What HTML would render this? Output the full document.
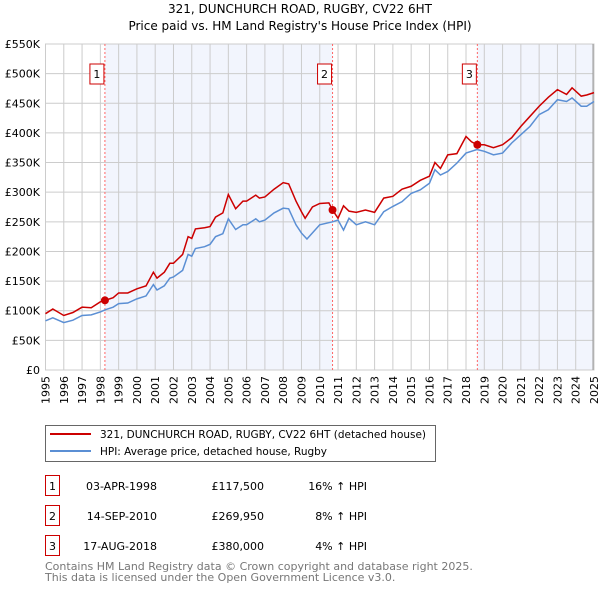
<!DOCTYPE html>
<html><head><meta charset="utf-8"><style>
body{margin:0;background:#fff;font-family:"DejaVu Sans","Liberation Sans",sans-serif;}
svg text{font-family:"DejaVu Sans","Liberation Sans",sans-serif;}
</style></head><body>
<svg id="chart" width="600" height="590" xmlns="http://www.w3.org/2000/svg">
<text x="300" y="13" text-anchor="middle" font-size="12">321, DUNCHURCH ROAD, RUGBY, CV22 6HT</text>
<text x="300" y="30" text-anchor="middle" font-size="12">Price paid vs. HM Land Registry's House Price Index (HPI)</text>
<g id="plot"></g>
<g>
<rect x="45.5" y="425.5" width="390" height="36" fill="#fff" stroke="#666"/>
<line x1="50" y1="434" x2="91" y2="434" stroke="#cc0000" stroke-width="2"/>
<text x="100" y="438" font-size="11" textLength="326" lengthAdjust="spacingAndGlyphs">321, DUNCHURCH ROAD, RUGBY, CV22 6HT (detached house)</text>
<line x1="50" y1="451" x2="91" y2="451" stroke="#5b8fd4" stroke-width="2"/>
<text x="100" y="455" font-size="11" textLength="227" lengthAdjust="spacingAndGlyphs">HPI: Average price, detached house, Rugby</text>
</g>
<g font-size="11">
<rect x="45.5" y="475.5" width="14" height="20" fill="#fff" stroke="#cc0000"/><text x="52.5" y="490" text-anchor="middle">1</text>
<text x="157" y="490" text-anchor="end">03-APR-1998</text><text x="264" y="490" text-anchor="end">£117,500</text><text x="367" y="490" text-anchor="end">16% ↑ HPI</text>
<rect x="45.5" y="505.5" width="14" height="20" fill="#fff" stroke="#cc0000"/><text x="52.5" y="520" text-anchor="middle">2</text>
<text x="157" y="520" text-anchor="end">14-SEP-2010</text><text x="264" y="520" text-anchor="end">£269,950</text><text x="367" y="520" text-anchor="end">8% ↑ HPI</text>
<rect x="45.5" y="535.5" width="14" height="20" fill="#fff" stroke="#cc0000"/><text x="52.5" y="550" text-anchor="middle">3</text>
<text x="157" y="550" text-anchor="end">17-AUG-2018</text><text x="264" y="550" text-anchor="end">£380,000</text><text x="367" y="550" text-anchor="end">4% ↑ HPI</text>
</g>
<text x="45" y="570" font-size="11" fill="#777">Contains HM Land Registry data © Crown copyright and database right 2025.</text>
<text x="45" y="581" font-size="11" fill="#777">This data is licensed under the Open Government Licence v3.0.</text>
</svg>
<script>
const hpiYears=[1995,1995.4,1996,1996.5,1997,1997.5,1998,1998.3,1998.7,1999,1999.5,2000,2000.5,2000.9,2001.1,2001.5,2001.8,2002,2002.5,2002.8,2003,2003.2,2003.7,2004,2004.3,2004.7,2005,2005.4,2005.8,2006,2006.5,2006.7,2007,2007.5,2008,2008.3,2008.7,2009,2009.3,2010,2010.7,2011,2011.3,2011.6,2012,2012.5,2013,2013.5,2014,2014.5,2015,2015.5,2016,2016.3,2016.6,2017,2017.5,2018,2018.6,2019,2019.5,2020,2020.5,2021,2021.5,2022,2022.5,2023,2023.5,2023.8,2024.3,2024.6,2025];
const hpiValues=[83,88,80,84,92,93,98,102,106,112,113,120,125,144,135,142,155,157,168,195,192,205,208,212,225,230,255,237,245,245,255,250,253,265,273,272,245,231,221,245,250,253,236,256,245,250,245,267,276,284,298,304,315,338,329,335,349,366,372,369,363,366,383,397,411,431,439,456,453,459,445,445,453];
const priceYears=[1995,1995.4,1996,1996.5,1997,1997.5,1998,1998.25,1998.7,1999,1999.5,2000,2000.5,2000.9,2001.1,2001.5,2001.8,2002,2002.5,2002.8,2003,2003.2,2003.7,2004,2004.3,2004.7,2005,2005.4,2005.8,2006,2006.5,2006.7,2007,2007.5,2008,2008.3,2008.7,2009,2009.2,2009.6,2010,2010.5,2010.7,2011,2011.3,2011.6,2012,2012.5,2013,2013.5,2014,2014.5,2015,2015.5,2016,2016.3,2016.6,2017,2017.5,2018,2018.3,2018.6,2019,2019.5,2020,2020.5,2021,2021.5,2022,2022.5,2023,2023.5,2023.8,2024.3,2024.6,2025];
const priceValues=[95,103,92,97,106,105,115,117.5,122,130,130,137,142,165,155,165,180,180,195,225,222,238,240,242,258,265,296,272,285,285,295,290,292,305,316,314,285,267,256,275,281,282,270,256,277,268,266,270,266,290,293,305,310,320,327,350,340,363,365,394,385,380,380,375,380,392,411,428,445,460,473,465,476,462,464,468];
const saleYears=[1998.25,2010.7,2018.62];
const saleValues=[117.5,269.95,380];
const saleLabels=["1","2","3"];
const yTicks=[0,50,100,150,200,250,300,350,400,450,500,550];
const yTickLabels=["£0","£50K","£100K","£150K","£200K","£250K","£300K","£350K","£400K","£450K","£500K","£550K"];
const xTicks=[1995,1996,1997,1998,1999,2000,2001,2002,2003,2004,2005,2006,2007,2008,2009,2010,2011,2012,2013,2014,2015,2016,2017,2018,2019,2020,2021,2022,2023,2024,2025];

const X0=45.5,X1=594,Y0=370,Y1=44;
const xs=y=>X0+(y-1995)*(X1-X0)/30;
const ys=v=>Y0-v*(Y0-Y1)/550;
const NS="http://www.w3.org/2000/svg";
const g=document.getElementById('plot');
function mk(t,a){const e=document.createElementNS(NS,t);for(const k in a)e.setAttribute(k,a[k]);g.appendChild(e);return e;}
const sh1=mk('rect',{x:xs(saleYears[0]),y:Y1,width:xs(saleYears[1])-xs(saleYears[0]),height:Y0-Y1,fill:'#f2f5fd'});


const sh2=mk('rect',{x:xs(saleYears[2]),y:Y1,width:X1-xs(saleYears[2]),height:Y0-Y1,fill:'#f2f5fd'});


yTicks.forEach((v,i)=>{
 const l=mk('line',{x1:X0,x2:X1,y1:ys(v),y2:ys(v),stroke:'#cccccc'});
 
 
 const t=mk('text',{x:40,y:ys(v)+4,'text-anchor':'end','font-size':11});
 
 
 t.textContent=yTickLabels[i];
});
xTicks.forEach(yr=>{
 const l=mk('line',{x1:xs(yr),x2:xs(yr),y1:Y1,y2:Y0,stroke:'#cccccc'});
 
 
 const t=mk('text',{x:0,y:0,'text-anchor':'end','font-size':11,transform:`translate(${xs(yr)+4},${Y0+6}) rotate(-90)`});
 
 
 t.textContent=yr;
});
const bd=mk('rect',{x:X0,y:Y1,width:X1-X0,height:Y0-Y1,fill:'none',stroke:'#cccccc'});


const re=mk('line',{x1:X1-1,x2:X1-1,y1:Y1,y2:Y0,stroke:'#999'});


saleYears.forEach((yr,i)=>{
 const l=mk('line',{x1:xs(yr),x2:xs(yr),y1:Y1,y2:Y0,stroke:'#ff6666','stroke-dasharray':'2,2'});
 
 
 const r=mk('rect',{x:xs(yr)-15,y:64,width:14,height:20,fill:'#fff',stroke:'#cc0000'});
 
 
 const t=mk('text',{x:xs(yr)-8,y:78,'text-anchor':'middle','font-size':11});
 
 
 t.textContent=saleLabels[i];
});
const hp=mk('polyline',{points:hpiYears.map((y,i)=>xs(y)+','+ys(hpiValues[i])).join(' '),fill:'none',stroke:'#5b8fd4','stroke-width':1.5});


const pp=mk('polyline',{points:priceYears.map((y,i)=>xs(y)+','+ys(priceValues[i])).join(' '),fill:'none',stroke:'#cc0000','stroke-width':1.5});


saleYears.forEach((yr,i)=>{
 const c=mk('circle',{cx:xs(yr),cy:ys(saleValues[i]),r:4,fill:'#cc0000'});
 
 
});
</script>
</body></html>
